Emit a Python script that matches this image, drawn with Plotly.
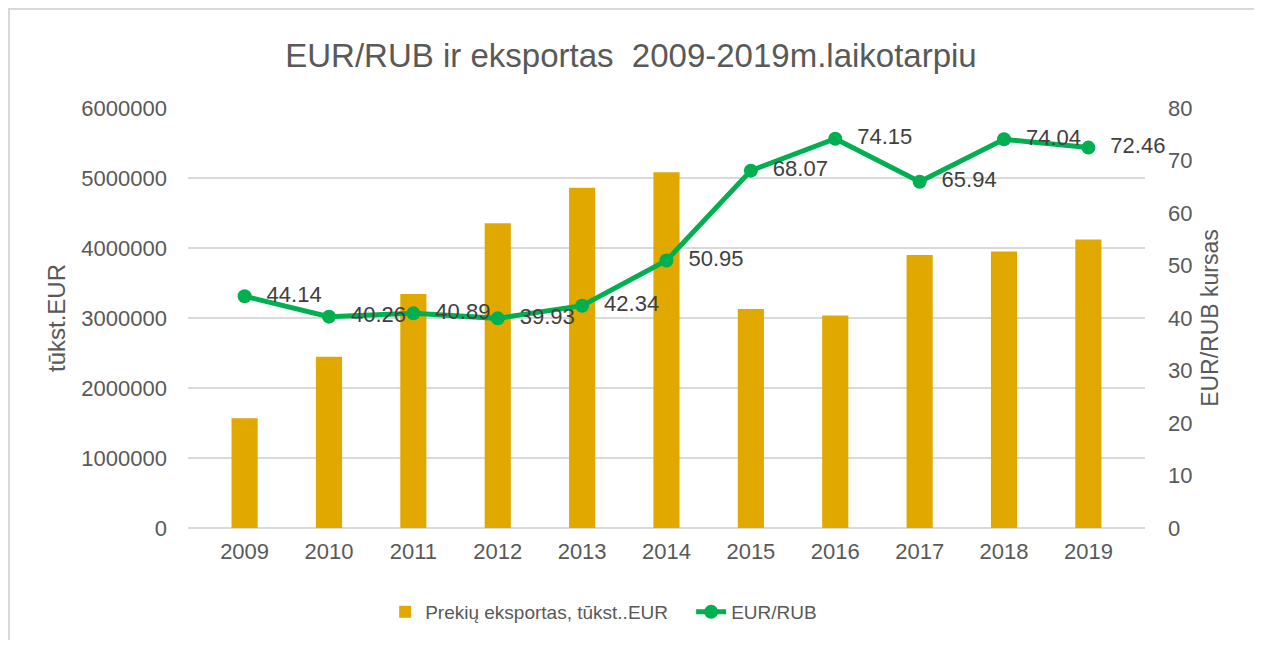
import plotly.graph_objects as go

years = ["2009", "2010", "2011", "2012", "2013", "2014", "2015", "2016", "2017", "2018", "2019"]
exports = [1567000, 2447000, 3343000, 4352000, 4862000, 5081000, 3129000, 3037000, 3900000, 3951000, 4123000]
eur_rub = [44.14, 40.26, 40.89, 39.93, 42.34, 50.95, 68.07, 74.15, 65.94, 74.04, 72.46]

FONT = "Liberation Sans, Arial, sans-serif"
TXT = "#595959"

W, H = 1246, 632
L, R, T, B = 180, 109, 100, 112
PW, PH = W - L - R, H - T - B

fig = go.Figure()
fig.add_trace(go.Bar(
    x=years, y=exports, name="Prekių eksportas, tūkst..EUR",
    marker=dict(color="#E1A900", line=dict(width=0)), width=0.31, yaxis="y",
))
fig.add_trace(go.Scatter(
    x=years, y=eur_rub, name="EUR/RUB", yaxis="y2",
    mode="lines+markers+text",
    line=dict(color="#00B050", width=5),
    marker=dict(color="#00B050", size=14),
    text=[f"  {v:.2f}" for v in eur_rub],
    textposition="middle right",
    textfont=dict(size=22, color="#404040", family=FONT),
    cliponaxis=False,
))

fig.update_layout(
    width=W, height=H,
    paper_bgcolor="white", plot_bgcolor="white",
    margin=dict(l=L, r=R, t=T, b=B, autoexpand=False),
    title=dict(text="EUR/RUB ir eksportas  2009-2019m.laikotarpiu", x=0.5, xanchor="center",
               xref="container",
               y=1 - 47 / H, yanchor="middle", font=dict(size=33, color=TXT, family=FONT)),
    font=dict(family=FONT, color=TXT, size=22),
    showlegend=True,
    legend=dict(orientation="h", x=0.206, xanchor="left", y=-84 / PH, yanchor="middle",
                font=dict(size=19, color=TXT, family=FONT),
                entrywidth=261, entrywidthmode="pixels", bgcolor="rgba(0,0,0,0)"),
    xaxis=dict(showgrid=False, showline=False, ticks="", tickfont=dict(size=22, color=TXT),
               ticklabelstandoff=8),
    yaxis=dict(range=[0, 6000000], dtick=1000000, showgrid=True, gridcolor="#D9D9D9", gridwidth=1.5,
               zeroline=True, zerolinecolor="#D9D9D9", zerolinewidth=1.5, tickformat="d",
               ticklabelstandoff=20,
               title=dict(text="tūkst.EUR", font=dict(size=24, color=TXT), standoff=8),
               tickfont=dict(size=22, color=TXT)),
    yaxis2=dict(range=[0, 80], dtick=10, overlaying="y", side="right", showgrid=False,
                zeroline=False, ticklabelstandoff=22,
                title=dict(text="EUR/RUB kursas", font=dict(size=23, color=TXT), standoff=10),
                tickfont=dict(size=22, color=TXT)),
    shapes=[dict(type="rect", xref="paper", yref="paper", x0=-(L - 1) / PW, x1=1 + (R + 20) / PW,
                 y0=-(B + 20) / PH, y1=1 + (T - 1) / PH, line=dict(color="#D9D9D9", width=2),
                 fillcolor="rgba(0,0,0,0)", layer="below")],
)

fig.write_html("out.html")
